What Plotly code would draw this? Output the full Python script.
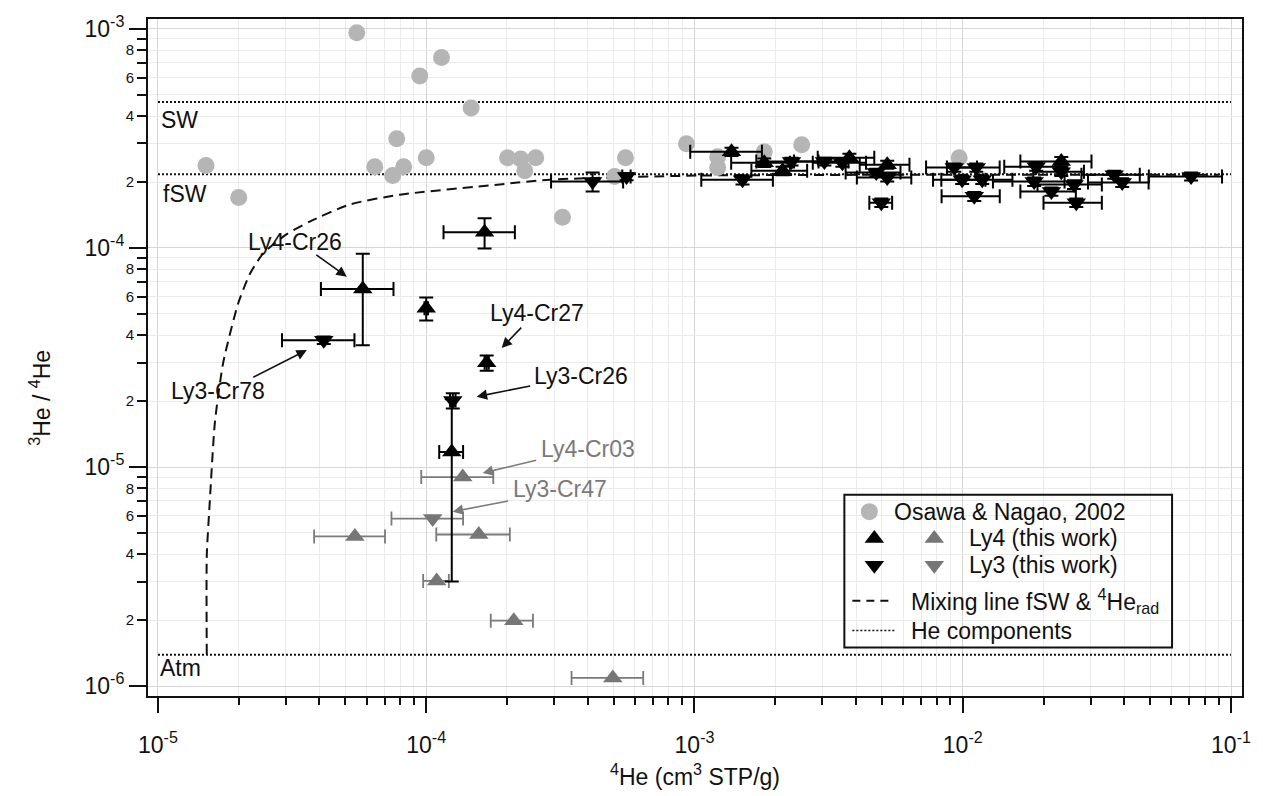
import plotly.graph_objects as go

# ---------------- data ----------------
osawa_he4 = [1.51e-5, 2.00e-5, 5.51e-5, 1.14e-4, 9.46e-5, 7.76e-5, 6.43e-5, 7.5e-5, 8.24e-5,
             1.0e-4, 1.47e-4, 2.01e-4, 2.25e-4, 2.56e-4, 2.33e-4, 3.22e-4, 5.53e-4, 5.04e-4,
             9.33e-4, 1.22e-3, 1.22e-3, 1.82e-3, 2.51e-3, 9.7e-3]
osawa_ratio = [2.38e-4, 1.70e-4, 9.6e-4, 7.4e-4, 6.1e-4, 3.15e-4, 2.35e-4, 2.14e-4, 2.35e-4,
               2.58e-4, 4.35e-4, 2.58e-4, 2.55e-4, 2.58e-4, 2.25e-4, 1.38e-4, 2.58e-4, 2.12e-4,
               2.99e-4, 2.61e-4, 2.33e-4, 2.75e-4, 2.96e-4, 2.58e-4]

ly4_he4 = [1.65e-4, 5.8e-5, 1.0e-4, 1.68e-4, 1.245e-4, 1.374e-3, 1.82e-3, 2.13e-3, 3.78e-3, 5.23e-3, 2.33e-2]
ly4_ratio = [1.18e-4, 6.5e-5, 5.3e-5, 2.99e-5, 1.17e-5, 2.75e-4, 2.45e-4, 2.25e-4, 2.58e-4, 2.40e-4, 2.48e-4]
ly4_he4_err = [4.9e-5, 1.75e-5, 1.5e-6, 3e-6, 1.27e-5, 4.1e-4, 4.5e-4, 5e-4, 9e-4, 1.1e-3, 6.9e-3]
ly4_ratio_err = [1.85e-5, 2.9e-5, 6.4e-6, 2.4e-6, 8.7e-6, 1.2e-5, 1.1e-5, 1.0e-5, 1.1e-5, 1.0e-5, 1.2e-5]

ly3_he4 = [4.15e-5, 1.256e-4, 4.17e-4, 5.58e-4, 1.51e-3, 2.30e-3, 3.05e-3, 3.56e-3, 4.76e-3, 5.23e-3,
           4.97e-3, 9.30e-3, 9.95e-3, 1.123e-2, 1.182e-2, 1.104e-2, 1.878e-2, 1.846e-2, 2.14e-2,
           2.33e-2, 2.60e-2, 2.65e-2, 3.67e-2, 3.93e-2, 7.10e-2]
ly3_ratio = [3.79e-5, 2.01e-5, 2.01e-4, 2.12e-4, 2.05e-4, 2.48e-4, 2.48e-4, 2.45e-4, 2.21e-4, 2.10e-4,
             1.61e-4, 2.33e-4, 2.05e-4, 2.33e-4, 2.05e-4, 1.72e-4, 2.35e-4, 2.01e-4, 1.81e-4,
             2.23e-4, 1.95e-4, 1.61e-4, 2.16e-4, 1.99e-4, 2.12e-4]
ly3_he4_err = [1.25e-5, 3e-6, 1.25e-4, 2e-5, 4.5e-4, 6e-4, 7e-4, 8e-4, 1.1e-3, 1.2e-3,
               4.85e-4, 2.0e-3, 2.2e-3, 2.5e-3, 3.5e-3, 2.7e-3, 4.5e-3, 5.5e-3, 5e-3,
               5e-3, 7e-3, 6.5e-3, 9e-3, 1.0e-2, 2.16e-2]
ly3_ratio_err = [1.5e-6, 1.6e-6, 2e-5, 8e-6, 1e-5, 1e-5, 1e-5, 1e-5, 9e-6, 9e-6,
                 7e-6, 1e-5, 9e-6, 1e-5, 9e-6, 8e-6, 1e-5, 9e-6, 8e-6,
                 1e-5, 9e-6, 7e-6, 9e-6, 9e-6, 9e-6]

ly4g_he4 = [1.368e-4, 5.42e-5, 1.57e-4, 1.094e-4, 2.12e-4, 4.96e-4]
ly4g_ratio = [9.0e-6, 4.82e-6, 4.92e-6, 3.02e-6, 1.99e-6, 1.09e-6]
ly4g_he4_err = [4.1e-5, 1.6e-5, 4.8e-5, 1.2e-5, 3.8e-5, 1.48e-4]

ly3g_he4 = [1.057e-4]
ly3g_ratio = [5.82e-6]
ly3g_he4_err = [3.15e-5]

mix_he4 = [1.52e-5, 1.52e-5, 1.56e-5, 1.63e-5, 1.75e-5, 1.99e-5, 2.2e-5, 2.46e-5, 3.0e-5, 3.68e-5,
           5.19e-5, 7.96e-5, 1.88e-4, 2.88e-4, 1.04e-3, 1.0e-2, 9.0e-2]
mix_ratio = [1.40e-6, 3.92e-6, 6.95e-6, 1.60e-5, 2.99e-5, 5.58e-5, 7.6e-5, 9.4e-5, 1.15e-4, 1.32e-4,
             1.58e-4, 1.75e-4, 1.95e-4, 2.05e-4, 2.14e-4, 2.16e-4, 2.16e-4]

component_names = ["SW", "fSW", "Atm"]
component_ratio = [4.64e-4, 2.17e-4, 1.39e-6]
component_he4 = [1e-5, 1e-1]

x_tick_vals = [1e-5, 1e-4, 1e-3, 1e-2, 1e-1]
x_tick_text = ["10<sup>-5</sup>", "10<sup>-4</sup>", "10<sup>-3</sup>", "10<sup>-2</sup>", "10<sup>-1</sup>"]
y_major_vals = [1e-6, 1e-5, 1e-4, 1e-3]
y_major_text = ["10<sup>-6</sup>", "10<sup>-5</sup>", "10<sup>-4</sup>", "10<sup>-3</sup>"]
y_minor_digits = [2, 4, 6, 8]
y_unlabeled_digits = [3, 5, 7, 9]
decades = [1e-6, 1e-5, 1e-4]
x_decades = [1e-5, 1e-4, 1e-3, 1e-2]

# ---------------- geometry ----------------
W, H = 1263, 796
L, R, T, B = 148, 1243, 13, 696
XR = [-5.0372, -0.959]
YR = [-6.0452, -2.9548]


def pp(px, py):
    return (px - L) / (R - L), (B - py) / (B - T)


FONT = "Liberation Sans, Arial, sans-serif"
BLACK = "#111111"
GRAY_TRI = "#767676"
GRAY_CIRC = "#b5b5b5"

fig = go.Figure()

# component lines
for r in component_ratio:
    fig.add_trace(go.Scatter(x=component_he4, y=[r, r], mode="lines",
                             line=dict(color=BLACK, width=2, dash="2px,2px"),
                             hoverinfo="skip", showlegend=False))

# mixing line
fig.add_trace(go.Scatter(x=mix_he4, y=mix_ratio, mode="lines",
                         line=dict(color=BLACK, width=2, dash="10px,6px", shape="spline", smoothing=0.6),
                         hoverinfo="skip", showlegend=False))

# Osawa & Nagao
fig.add_trace(go.Scatter(x=osawa_he4, y=osawa_ratio, mode="markers",
                         marker=dict(symbol="circle", size=17, color=GRAY_CIRC),
                         showlegend=False))

# gray triangles
fig.add_trace(go.Scatter(x=ly4g_he4, y=ly4g_ratio, mode="markers",
                         marker=dict(symbol="triangle-up", size=17, color=GRAY_TRI),
                         error_x=dict(type="data", array=ly4g_he4_err, color="#7a7a7a", thickness=1.8, width=7),
                         showlegend=False))
fig.add_trace(go.Scatter(x=ly3g_he4, y=ly3g_ratio, mode="markers",
                         marker=dict(symbol="triangle-down", size=17, color=GRAY_TRI),
                         error_x=dict(type="data", array=ly3g_he4_err, color="#7a7a7a", thickness=1.8, width=7),
                         showlegend=False))

# black triangles
fig.add_trace(go.Scatter(x=ly4_he4, y=ly4_ratio, mode="markers",
                         marker=dict(symbol="triangle-up", size=17, color="black"),
                         error_x=dict(type="data", array=ly4_he4_err, color="black", thickness=2, width=7),
                         error_y=dict(type="data", array=ly4_ratio_err, color="black", thickness=2, width=7),
                         showlegend=False))
fig.add_trace(go.Scatter(x=ly3_he4, y=ly3_ratio, mode="markers",
                         marker=dict(symbol="triangle-down", size=17, color="black"),
                         error_x=dict(type="data", array=ly3_he4_err, color="black", thickness=2, width=7),
                         error_y=dict(type="data", array=ly3_ratio_err, color="black", thickness=2, width=7),
                         showlegend=False))

# dummy trace for the overlay (major tick) y axis
fig.add_trace(go.Scatter(x=[1e-3], y=[1e-4], yaxis="y2", mode="markers",
                         marker=dict(opacity=0), hoverinfo="skip", showlegend=False))

# legend glyphs on an overlay axis spanning the plot area [0,1]
leg_black_x, leg_gray_x = pp(875, 0)[0], pp(935, 0)[0]
leg_rows = {"osawa": pp(0, 510)[1], "ly4": pp(0, 537)[1], "ly3": pp(0, 564)[1],
            "mix": pp(0, 600)[1], "comp": pp(0, 630)[1]}
fig.add_trace(go.Scatter(x=[pp(870, 0)[0]], y=[leg_rows["osawa"]], xaxis="x2", yaxis="y3", mode="markers",
                         marker=dict(symbol="circle", size=17, color=GRAY_CIRC), hoverinfo="skip", showlegend=False))
fig.add_trace(go.Scatter(x=[leg_black_x, leg_gray_x], y=[leg_rows["ly4"]] * 2, xaxis="x2", yaxis="y3",
                         mode="markers", marker=dict(symbol="triangle-up", size=17, color=["black", GRAY_TRI]),
                         hoverinfo="skip", showlegend=False))
fig.add_trace(go.Scatter(x=[leg_black_x, leg_gray_x], y=[leg_rows["ly3"]] * 2, xaxis="x2", yaxis="y3",
                         mode="markers", marker=dict(symbol="triangle-down", size=17, color=["black", GRAY_TRI]),
                         hoverinfo="skip", showlegend=False))

shapes = []
x0, y0 = pp(845, 647)
x1, y1 = pp(1173, 493)
shapes.append(dict(type="rect", xref="paper", yref="paper", x0=x0, y0=y0, x1=x1, y1=y1,
                   line=dict(color=BLACK, width=2), fillcolor="rgba(0,0,0,0)", layer="above"))
shapes.append(dict(type="line", xref="paper", yref="paper", x0=pp(853, 0)[0], x1=pp(895, 0)[0],
                   y0=leg_rows["mix"], y1=leg_rows["mix"], line=dict(color=BLACK, width=2, dash="8px,6px")))
shapes.append(dict(type="line", xref="paper", yref="paper", x0=pp(853, 0)[0], x1=pp(897, 0)[0],
                   y0=leg_rows["comp"], y1=leg_rows["comp"], line=dict(color=BLACK, width=1.5, dash="2px,2px")))

annotations = []


def text(px, py, s, size=23, color=BLACK, xanchor="left", angle=0):
    x, y = pp(px, py)
    annotations.append(dict(x=x, y=y, xref="paper", yref="paper", text=s, showarrow=False,
                            xanchor=xanchor, yanchor="middle", textangle=angle,
                            font=dict(family=FONT, size=size, color=color)))


# legend text
text(893, 510, "Osawa & Nagao, 2002")
text(968, 537, "Ly4 (this work)")
text(968, 564, "Ly3 (this work)")
text(910, 600, "Mixing line fSW & <sup>4</sup>He<sub>rad</sub>")
text(910, 630, "He components")

# component labels
text(159, 115, "SW")
text(161, 190, "fSW")
text(158, 668, "Atm")

# sample labels
text(295, 238, "Ly4-Cr26", xanchor="center")
text(218, 388, "Ly3-Cr78", xanchor="center")
text(537, 310, "Ly4-Cr27", xanchor="center")
text(581, 373, "Ly3-Cr26", xanchor="center")
text(588, 447, "Ly4-Cr03", xanchor="center", color="#7a7a7a")
text(560, 487, "Ly3-Cr47", xanchor="center", color="#7a7a7a")

# arrows (head px, tail px, colour)
arrows = [((347, 273), (315, 250), BLACK), ((307, 347), (252, 375), BLACK),
          ((502, 345), (523, 323), BLACK), ((477, 394), (532, 383), BLACK),
          ((483, 471), (538, 458), "#7a7a7a"), ((453, 510), (510, 499), "#7a7a7a")]
for (hx, hy), (tx, ty), col in arrows:
    x, y = pp(hx, hy)
    annotations.append(dict(x=x, y=y, xref="paper", yref="paper", text="", showarrow=True,
                            ax=tx - hx, ay=ty - hy, arrowhead=2, arrowsize=1.3, arrowwidth=1.6,
                            arrowcolor=col, standoff=0))

# axis titles
text(40, 395, "<sup>3</sup>He / <sup>4</sup>He", size=23, xanchor="center", angle=-90)
text(695, 776, "<sup>4</sup>He (cm<sup>3</sup> STP/g)", size=23, xanchor="center")

x_minor = [k * d for d in x_decades for k in range(2, 10)]
y_minor_lab_vals = [k * d for d in decades for k in y_minor_digits]
y_minor_lab_text = [str(k) for d in decades for k in y_minor_digits]
y_unlab_vals = [k * d for d in decades for k in y_unlabeled_digits]

fig.update_layout(
    width=W, height=H, autosize=False,
    margin=dict(l=L, r=W - R, t=T, b=H - B),
    paper_bgcolor="white", plot_bgcolor="white",
    font=dict(family=FONT, color=BLACK),
    showlegend=False,
    xaxis=dict(type="log", range=XR, tickvals=x_tick_vals, ticktext=x_tick_text,
               ticks="outside", ticklen=15, tickwidth=2, tickcolor=BLACK,
               showline=True, linewidth=2, linecolor=BLACK, mirror=True,
               showgrid=True, gridcolor="#d6d6d6", gridwidth=1, zeroline=False,
               tickfont=dict(size=23, family=FONT, color=BLACK), ticklabelstandoff=12,
               minor=dict(tickvals=x_minor, ticks="outside", ticklen=7, tickwidth=2, tickcolor=BLACK,
                          showgrid=True, gridcolor="#ebebeb", gridwidth=1)),
    yaxis=dict(type="log", range=YR, tickvals=y_minor_lab_vals, ticktext=y_minor_lab_text,
               ticks="outside", ticklen=9, tickwidth=2, tickcolor=BLACK,
               showline=True, linewidth=2, linecolor=BLACK, mirror=True,
               showgrid=True, gridcolor="#ebebeb", gridwidth=1, zeroline=False,
               tickfont=dict(size=15, family=FONT, color=BLACK),
               minor=dict(tickvals=y_unlab_vals, ticks="outside", ticklen=9, tickwidth=2, tickcolor=BLACK,
                          showgrid=True, gridcolor="#ebebeb", gridwidth=1)),
    yaxis2=dict(type="log", range=YR, overlaying="y", side="left", tickvals=y_major_vals,
                ticktext=y_major_text, ticks="outside", ticklen=18, tickwidth=2, tickcolor=BLACK,
                showline=False, showgrid=True, gridcolor="#d6d6d6", gridwidth=1, zeroline=False,
                tickfont=dict(size=23, family=FONT, color=BLACK)),
    xaxis2=dict(overlaying="x", range=[0, 1], visible=False),
    yaxis3=dict(overlaying="y", range=[0, 1], visible=False),
    shapes=shapes,
    annotations=annotations,
)

fig.write_html("out.html", config={"displayModeBar": False},
               post_script="document.body.style.margin='0';")
